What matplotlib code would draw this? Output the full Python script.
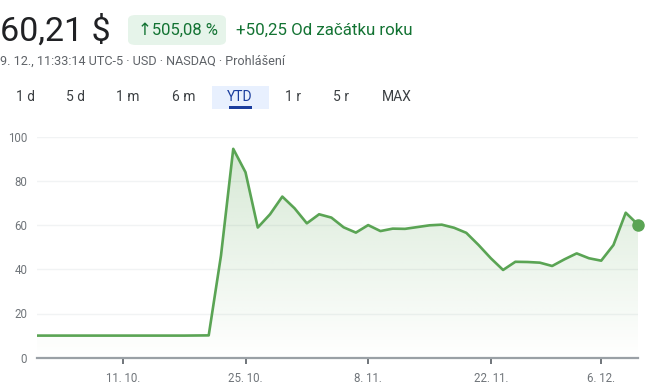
import matplotlib
matplotlib.use("Agg")
import matplotlib.pyplot as plt
from matplotlib.patches import FancyBboxPatch, Rectangle, PathPatch
import numpy as np

# ---- data ----
dates = ["30.9", "1.10", "4.10", "5.10", "6.10", "7.10", "8.10", "11.10", "12.10", "13.10",
         "14.10", "15.10", "18.10", "19.10", "20.10", "21.10", "22.10", "25.10", "26.10", "27.10",
         "28.10", "29.10", "1.11", "2.11", "3.11", "4.11", "5.11", "8.11", "9.11", "10.11",
         "11.11", "12.11", "15.11", "16.11", "17.11", "18.11", "19.11", "22.11", "23.11", "24.11",
         "26.11", "29.11", "30.11", "1.12", "2.12", "3.12", "6.12", "7.12", "8.12", "9.12"]
prices = [10.0, 10.0, 10.0, 10.0, 10.0, 10.0, 10.0, 10.0, 10.0, 10.0,
          10.0, 10.0, 10.0, 10.05, 10.1, 46.2, 94.5, 83.9, 58.9, 64.9,
          72.9, 67.6, 60.8, 64.9, 63.4, 59.0, 56.6, 60.0, 57.3, 58.4,
          58.3, 59.1, 59.9, 60.2, 58.8, 56.5, 51.0, 45.0, 39.7, 43.4,
          43.3, 43.0, 41.5, 44.5, 47.2, 45.0, 43.9, 51.0, 65.6, 60.21]
tick_dates = ["11.10", "25.10", "8.11", "22.11", "6.12"]
tick_labels = ["11. 10.", "25. 10.", "8. 11.", "22. 11.", "6. 12."]
y_ticks = [0, 20, 40, 60, 80, 100]

price_text = "60,21 $"
change_pct = "↑505,08 %"
change_abs = "+50,25 Od začátku roku"
subline = "9. 12., 11:33:14 UTC-5 · USD · NASDAQ · Prohlášení"
tabs = ["1 d", "5 d", "1 m", "6 m", "YTD", "1 r", "5 r", "MAX"]
tab_x = [25, 75, 128, 184, 240, 293, 341, 397]

plt.rcParams['font.family'] = ['Roboto', 'DejaVu Sans']

W, H = 650, 391
fig = plt.figure(figsize=(W / 100, H / 100), dpi=100)
fig.patch.set_facecolor("white")

def fx(px):
    return px / W

def fy(py):
    return 1 - py / H

# ---- header ----
fig.text(fx(0), fy(31), price_text, fontsize=24.5, color="#202124", va="center", ha="left")
badge = FancyBboxPatch((fx(128), fy(45)), fx(98), (30 / H), boxstyle="round,pad=0,rounding_size=0.012",
                       transform=fig.transFigure, facecolor="#e6f4ea", edgecolor="none")
fig.patches.append(badge)
fig.text(fx(178), fy(30), change_pct, fontsize=12, color="#137333", va="center", ha="center")
fig.text(fx(236), fy(30), change_abs, fontsize=12.2, color="#137333", va="center", ha="left")
fig.text(fx(0), fy(61), subline, fontsize=9.1, color="#5f6368", va="center", ha="left")

# tabs
sel = Rectangle((fx(212), fy(109)), fx(57), 23 / H, transform=fig.transFigure,
                facecolor="#e8f0fe", edgecolor="none")
fig.patches.append(sel)
for t, x in zip(tabs, tab_x):
    col = "#1a3d9e" if t == "YTD" else "#3c4043"
    fig.text(fx(x), fy(97), t, fontsize=10, color=col, va="center", ha="center")
ul = Rectangle((fx(229), fy(108.5)), fx(23), 2.5 / H, transform=fig.transFigure,
               facecolor="#1a3d9e", edgecolor="none")
fig.patches.append(ul)

# ---- chart ----
left, right = 37, 638
top, bottom = 136.7, 357.7
ax = fig.add_axes([fx(left), fy(bottom), fx(right - left), (bottom - top) / H])
x = np.arange(len(prices))

line_col = "#5aa454"
# gradient fill
poly = ax.fill_between(x, prices, 0, facecolor="none", edgecolor="none")
grad = np.zeros((100, 2, 4))
grad[..., 0:3] = matplotlib.colors.to_rgb(line_col)
grad[..., 3] = np.linspace(0.26, 0.0, 100)[:, None]
im = ax.imshow(grad, extent=[x[0], x[-1], 0, 100], aspect="auto", origin="upper",
               interpolation="bilinear", zorder=1)
clip = PathPatch(poly.get_paths()[0], transform=ax.transData, facecolor="none", edgecolor="none")
ax.add_patch(clip)
im.set_clip_path(clip)

ax.plot(x, prices, color=line_col, lw=1.9, zorder=3)
ax.plot([x[-1]], [prices[-1]], "o", color=line_col, ms=8, zorder=4, clip_on=False)

ax.set_xlim(x[0], x[-1])
ax.set_ylim(0, 100)

for v in y_ticks[1:]:
    ax.axhline(v, color="#f1f3f4", lw=1, zorder=0)

for s in ["top", "right", "left"]:
    ax.spines[s].set_visible(False)
ax.spines["bottom"].set_color("#9aa0a6")
ax.spines["bottom"].set_linewidth(1.6)

ax.set_yticks(y_ticks)
ax.set_yticklabels([str(v) for v in y_ticks])
ax.tick_params(axis="y", length=0, pad=7, labelsize=8.3, labelcolor="#70757a")
tpos = [dates.index(d) for d in tick_dates]
ax.set_xticks(tpos)
ax.set_xticklabels(tick_labels)
ax.tick_params(axis="x", length=4, width=1.4, color="#70757a", pad=6, labelsize=8.3,
               labelcolor="#70757a")

fig.savefig("out.png", dpi=100, facecolor="white")
